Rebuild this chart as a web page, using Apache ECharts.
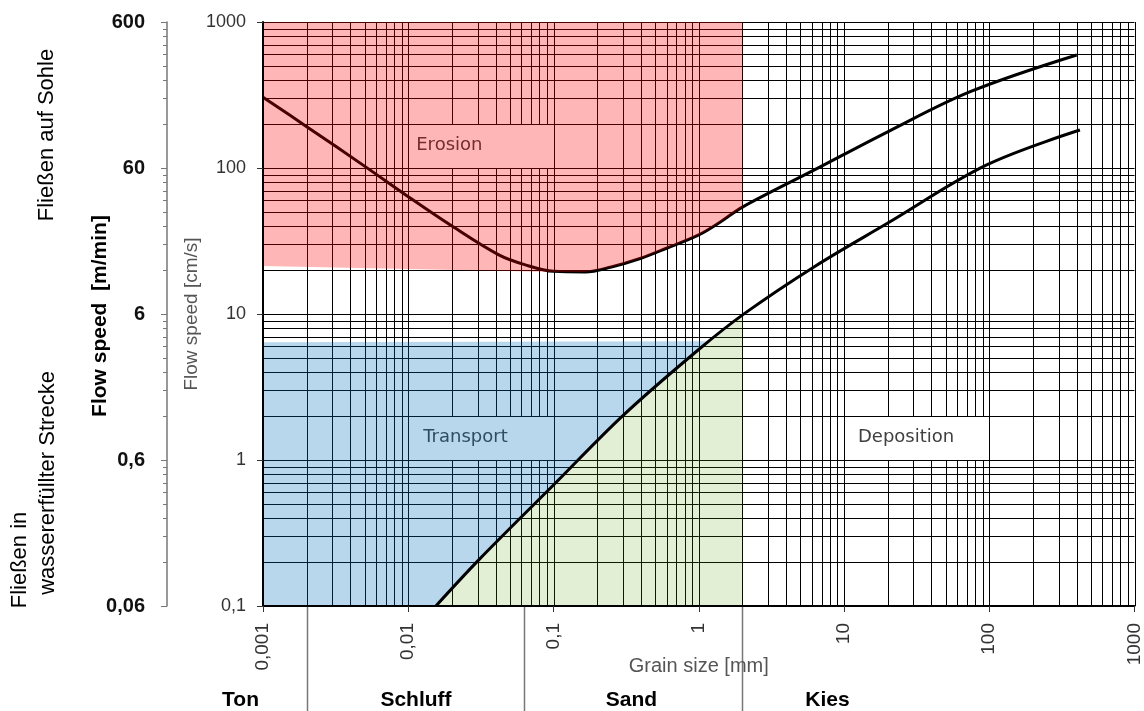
<!DOCTYPE html>
<html><head><meta charset="utf-8">
<script src="https://cdn.jsdelivr.net/npm/echarts@6/dist/echarts.min.js"></script>
<style>html,body{margin:0;padding:0;background:#fff}#c{width:1144px;height:711px}</style>
</head><body><div id="c"></div>
<script>
// ---- axes / ticks ----
const xTicks = [0.001, 0.01, 0.1, 1, 10, 100, 1000];
const xLabels = ['0,001', '0,01', '0,1', '1', '10', '100', '1000'];
const yTicks = [0.1, 1, 10, 100, 1000];
const yLabels = ['0,1', '1', '10', '100', '1000'];
const y2Labels = ['0,06', '0,6', '6', '60', '600'];
const gridMultipliers = [1, 2, 3, 4, 5, 6, 7, 8, 9];

// ---- curves (grain size mm, flow speed cm/s) ----
const erosionX = [0.001, 0.002, 0.005, 0.01, 0.02, 0.042, 0.064, 0.1, 0.165, 0.25, 0.4, 0.6, 1, 1.4, 2, 6.25, 20, 74, 400];
const erosionY = [305, 192, 103, 63.6, 40, 25.4, 21.7, 19.6, 19.4, 21, 24.1, 28.2, 34.8, 42.5, 54, 97, 177, 333, 594];
const depositionX = [0.0155, 0.0306, 0.1, 0.303, 0.99, 2.07, 6.25, 19.9, 96, 421];
const depositionY = [0.1, 0.207, 0.674, 2.03, 5.67, 10.1, 21.1, 41.8, 105, 182];

// ---- coloured zones ----
const erosionZone = [[0.001, 1000], [2, 1000], [2, 54], [1.4, 42.5], [1, 34.8], [0.6, 28.2], [0.4, 24.1], [0.25, 21], [0.165, 19.4], [0.1, 19.4], [0.001, 21.3]];
const transportZone = [[0.001, 0.1], [0.001, 6.4], [1.12, 6.5], [0.99, 5.67], [0.303, 2.03], [0.1, 0.674], [0.0306, 0.207], [0.0155, 0.1]];
const depositionZone = [[0.0155, 0.1], [0.0306, 0.207], [0.1, 0.674], [0.303, 2.03], [0.99, 5.67], [2, 9.8], [2, 0.1]];

// ---- zone labels ----
const zoneNames = ['Erosion', 'Transport', 'Deposition'];
const zoneBoxX0 = [0.01, 0.01, 10];
const zoneBoxX1 = [0.1, 0.1, 100];
const zoneBoxY0 = [100, 1, 1];
const zoneBoxY1 = [200, 2, 2];

// ---- grain classes ----
const classNames = ['Ton', 'Schluff', 'Sand', 'Kies'];
const classLabelX = [0.0007, 0.0113, 0.344, 7.7];
const classBounds = [0.002, 0.063, 2];

const FONT = 'Liberation Sans, Arial, sans-serif';
const padLeft = [8, 15, 14];

function tickFormatter(ticks, labels) {
  return function (v) {
    for (let i = 0; i < ticks.length; i++) {
      if (Math.abs(Math.log10(v) - Math.log10(ticks[i])) < 1e-6) return labels[i];
    }
    return '';
  };
}

const gridX = [];
xTicks.slice(0, -1).forEach(d => gridMultipliers.forEach(m => gridX.push(d * m)));
gridX.push(xTicks[xTicks.length - 1]);
const gridY = [];
yTicks.slice(0, -1).forEach(d => gridMultipliers.forEach(m => gridY.push(d * m)));
gridY.push(yTicks[yTicks.length - 1]);

const X_MIN = xTicks[0], X_MAX = xTicks[xTicks.length - 1];
const Y_MIN = yTicks[0], Y_MAX = yTicks[yTicks.length - 1];
const Y2_OFFSET = 96;

function zoneSeries(pts, fill, z) {
  return {
    type: 'custom', z: z, silent: true, clip: true, data: [[1, 1]],
    renderItem: function (params, api) {
      return { type: 'polygon', shape: { points: pts.map(p => api.coord(p)) }, style: { fill: fill } };
    }
  };
}

const chart = echarts.init(document.getElementById('c'), null, { renderer: 'canvas' });
chart.setOption({
  animation: false,
  backgroundColor: '#fff',
  grid: { left: 263, right: 7, top: 22, bottom: 105 },
  xAxis: {
    type: 'log', logBase: 10, min: X_MIN, max: X_MAX, interval: 1, splitNumber: 6, z: 10,
    name: 'Grain size [mm]', nameLocation: 'middle', nameGap: 50, nameMoveOverlap: false,
    nameTextStyle: { color: '#555', fontSize: 20, fontFamily: FONT },
    axisLine: { lineStyle: { color: '#000', width: 2 } },
    axisTick: { show: true, length: 6, lineStyle: { color: '#333', width: 1 } },
    axisLabel: { rotate: 90, margin: 17, fontSize: 19, color: '#333', fontFamily: FONT,
      showMinLabel: true, showMaxLabel: true, formatter: tickFormatter(xTicks, xLabels) },
    splitLine: { show: false }
  },
  yAxis: [{
    type: 'log', logBase: 10, min: Y_MIN, max: Y_MAX, interval: 1, splitNumber: 4, z: 10,
    name: 'Flow speed [cm/s]', nameLocation: 'middle', nameGap: 62, nameRotate: 90, nameMoveOverlap: false,
    nameTextStyle: { color: '#555', fontSize: 19, fontFamily: FONT },
    axisLine: { show: true, lineStyle: { color: '#000', width: 2 } },
    axisTick: { show: true, length: 6, lineStyle: { color: '#333', width: 1 } },
    axisLabel: { margin: 17, fontSize: 18, color: '#333', fontFamily: FONT,
      showMinLabel: true, showMaxLabel: true, formatter: tickFormatter(yTicks, yLabels) },
    splitLine: { show: false }
  }, {
    type: 'log', logBase: 10, min: Y_MIN, max: Y_MAX, interval: 1, splitNumber: 4, z: 10,
    position: 'left', offset: Y2_OFFSET,
    axisLine: { show: true, lineStyle: { color: '#777', width: 1.5 } },
    axisTick: { show: true, length: 6, lineStyle: { color: '#777', width: 1 } },
    axisLabel: { margin: 22, fontSize: 20, fontWeight: 'bold', color: '#111', fontFamily: FONT,
      showMinLabel: true, showMaxLabel: true, formatter: tickFormatter(yTicks, y2Labels) },
    splitLine: { show: false }
  }],
  graphic: [
    { type: 'text', x: 47, y: 135, rotation: Math.PI / 2, silent: true,
      style: { text: 'Fließen auf Sohle', font: '22px ' + FONT, fill: '#000', textAlign: 'center', textVerticalAlign: 'middle' } },
    { type: 'text', x: 100, y: 316, rotation: Math.PI / 2, silent: true,
      style: { text: 'Flow speed  [m/min]', font: 'bold 21px ' + FONT, fill: '#000', textAlign: 'center', textVerticalAlign: 'middle' } },
    { type: 'text', x: 20, y: 560, rotation: Math.PI / 2, silent: true,
      style: { text: 'Fließen in', font: '22px ' + FONT, fill: '#000', textAlign: 'center', textVerticalAlign: 'middle' } },
    { type: 'text', x: 48, y: 483, rotation: Math.PI / 2, silent: true,
      style: { text: 'wassererfüllter Strecke', font: '22px ' + FONT, fill: '#000', textAlign: 'center', textVerticalAlign: 'middle' } }
  ],
  series: [
    // vertical grid lines
    { type: 'custom', z: 1, silent: true, clip: false, data: gridX.map(v => [v, 1]),
      renderItem: function (params, api) {
        const v = api.value(0);
        const a = api.coord([v, Y_MIN]), b = api.coord([v, Y_MAX]);
        const x = Math.round(a[0]) + 0.5;
        return { type: 'line', shape: { x1: x, y1: a[1], x2: x, y2: b[1] }, style: { stroke: '#000', lineWidth: 1 } };
      } },
    // horizontal grid lines
    { type: 'custom', z: 1, silent: true, clip: false, data: gridY.map(v => [1, v]),
      renderItem: function (params, api) {
        const v = api.value(1);
        const a = api.coord([X_MIN, v]), b = api.coord([X_MAX, v]);
        const y = Math.round(a[1]) + 0.5;
        return { type: 'line', shape: { x1: a[0], y1: y, x2: b[0], y2: y }, style: { stroke: '#000', lineWidth: 1 } };
      } },
    // secondary axis minor ticks
    { type: 'custom', z: 1, silent: true, clip: false, data: gridY.map(v => [1, v]),
      renderItem: function (params, api) {
        const v = api.value(1);
        const a = api.coord([X_MIN, v]);
        const x = a[0] - Y2_OFFSET;
        const y = Math.round(a[1]) + 0.5;
        return { type: 'line', shape: { x1: x - 4, y1: y, x2: x, y2: y }, style: { stroke: '#777', lineWidth: 1 } };
      } },
    // grain class separators
    { type: 'custom', z: 1, silent: true, clip: false, data: classBounds.map(v => [v, 1]),
      renderItem: function (params, api) {
        const a = api.coord([api.value(0), Y_MIN]);
        const x = Math.round(a[0]) + 0.5;
        return { type: 'line', shape: { x1: x, y1: a[1], x2: x, y2: a[1] + 110 }, style: { stroke: '#777', lineWidth: 1.5 } };
      } },
    // grain class labels
    { type: 'custom', z: 1, silent: true, clip: false, data: classLabelX.map(v => [v, 1]),
      renderItem: function (params, api) {
        const a = api.coord([api.value(0), Y_MIN]);
        return { type: 'text', x: a[0], y: a[1] + 94,
          style: { text: classNames[params.dataIndex], font: 'bold 21px ' + FONT, fill: '#000', textAlign: 'center', textVerticalAlign: 'middle' } };
      } },
    // zone label boxes
    { type: 'custom', z: 2, silent: true, clip: true, data: zoneNames.map((n, i) => [zoneBoxX0[i], zoneBoxY0[i]]),
      renderItem: function (params, api) {
        const i = params.dataIndex;
        const a = api.coord([zoneBoxX0[i], zoneBoxY1[i]]);
        const b = api.coord([zoneBoxX1[i], zoneBoxY0[i]]);
        return { type: 'group', children: [
          { type: 'rect', shape: { x: Math.round(a[0]) + 1, y: Math.round(a[1]) + 1, width: Math.round(b[0]) - Math.round(a[0]) - 1, height: Math.round(b[1]) - Math.round(a[1]) - 1 }, style: { fill: '#fff' } },
          { type: 'text', x: a[0] + padLeft[i], y: (a[1] + b[1]) / 2 - 1,
            style: { text: zoneNames[i], font: '18px DejaVu Sans', fill: '#404040', textAlign: 'left', textVerticalAlign: 'middle' } }
        ] };
      } },
    // erosion curve
    { type: 'line', z: 3, silent: true, symbol: 'none', smooth: 0.35,
      data: erosionX.map((x, i) => [x, erosionY[i]]),
      lineStyle: { color: '#000', width: 3 } },
    // zones
    zoneSeries(erosionZone, 'rgba(255,0,0,0.285)', 4),
    zoneSeries(transportZone, 'rgba(0,110,190,0.28)', 4),
    zoneSeries(depositionZone, 'rgba(85,160,0,0.17)', 4),
    // deposition curve
    { type: 'line', z: 5, silent: true, symbol: 'none', smooth: 0.35,
      data: depositionX.map((x, i) => [x, depositionY[i]]),
      lineStyle: { color: '#000', width: 3 } }
  ]
});
</script>
</body></html>
